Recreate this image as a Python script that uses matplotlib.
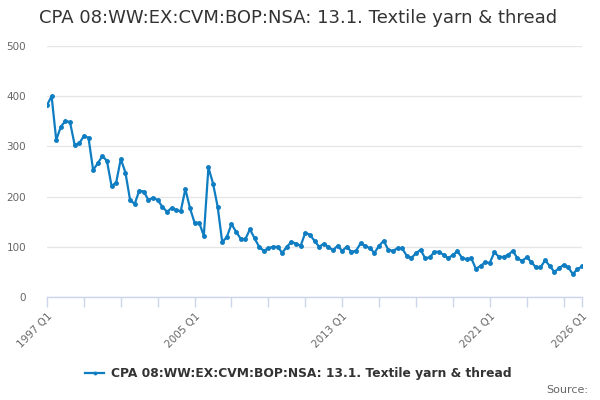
import matplotlib
matplotlib.use("Agg")
import matplotlib.pyplot as plt

title = "CPA 08:WW:EX:CVM:BOP:NSA: 13.1. Textile yarn & thread"
series_name = "CPA 08:WW:EX:CVM:BOP:NSA: 13.1. Textile yarn & thread"

years = list(range(1997, 2027))
quarters = [f"{y} Q{q}" for y in years for q in range(1, 5)]
quarters = quarters[:quarters.index("2026 Q1") + 1]

values = [382, 400, 313, 339, 351, 348, 303, 306, 321, 317,
          253, 266, 281, 271, 221, 228, 275, 248, 194, 185,
          212, 210, 193, 198, 193, 180, 170, 177, 173, 171,
          215, 177, 148, 148, 122, 258, 226, 180, 109, 120,
          145, 130, 116, 115, 135, 117, 100, 92, 97, 100,
          100, 88, 100, 110, 106, 102, 128, 124, 112, 100,
          106, 100, 93, 102, 92, 100, 90, 92, 107, 102,
          97, 88, 102, 112, 94, 92, 97, 97, 82, 78,
          87, 94, 77, 79, 90, 90, 84, 77, 84, 91,
          78, 75, 77, 56, 62, 69, 68, 89, 80, 80,
          84, 92, 77, 72, 79, 70, 59, 59, 73, 62,
          50, 57, 64, 59, 46, 55, 61]

y_ticks = [0, 100, 200, 300, 400, 500]
x_label_names = ["1997 Q1", "2005 Q1", "2013 Q1", "2021 Q1", "2026 Q1"]

line_color = "#0f7dc2"

fig = plt.figure(figsize=(6, 4), dpi=100)
ax = fig.add_axes([47 / 600, 1 - 297 / 400, (582 - 47) / 600, (297 - 46) / 400])

x = list(range(len(values)))
ax.plot(x, values, color=line_color, lw=1.6, marker="o", ms=2.5,
        label=series_name, zorder=3)

ax.set_xlim(0, len(values) - 1)
ax.set_ylim(0, 500)
ax.set_yticks(y_ticks)
ax.set_yticklabels([str(v) for v in y_ticks], color="#666666", fontsize=7.5)
ax.grid(axis="y", color="#e6e6e6", lw=1)
ax.set_axisbelow(True)

minor = list(range(0, len(values), 8)) + [len(values) - 1]
ax.set_xticks(minor, minor=True)
label_pos = [quarters.index(n) for n in x_label_names]
ax.set_xticks(label_pos)
ax.set_xticklabels(x_label_names, rotation=45, ha="right", rotation_mode="anchor",
                   color="#666666", fontsize=7.5)
ax.tick_params(axis="x", which="both", length=7, color="#ccd6eb", width=1, pad=3)
ax.tick_params(axis="y", length=0, pad=15)

for s in ["top", "right", "left"]:
    ax.spines[s].set_visible(False)
ax.spines["bottom"].set_color("#ccd6eb")
ax.spines["bottom"].set_linewidth(1)

fig.text(298 / 600, 1 - 18 / 400, title, ha="center", va="center",
         fontsize=13.0, color="#333333")

leg = fig.legend(loc="center", bbox_to_anchor=(298 / 600, 1 - 374 / 400), frameon=False,
                 prop={"weight": "bold", "size": 8.8}, handlelength=1.6,
                 handletextpad=0.5, markerscale=0.7)
for t in leg.get_texts():
    t.set_color("#333333")

fig.text(588 / 600, 1 - 390 / 400, "Source:", ha="right", va="center",
         fontsize=8, color="#666666")

fig.savefig("out.png", dpi=100)
